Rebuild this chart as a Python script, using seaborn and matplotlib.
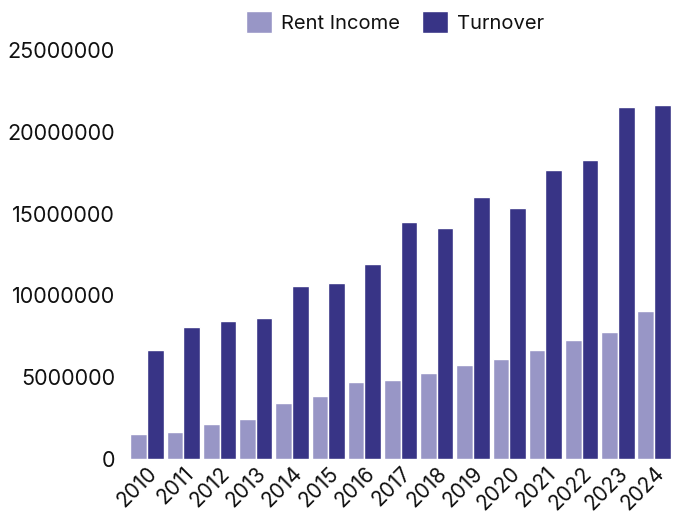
import numpy as np
import pandas as pd
import matplotlib
matplotlib.use("Agg")
import matplotlib.pyplot as plt
import seaborn as sns

# values
years = [str(y) for y in range(2010, 2025)]
rent_income = [1530000, 1650000, 2140000, 2450000, 3420000, 3830000, 4720000, 4820000,
               5230000, 5770000, 6090000, 6650000, 7270000, 7780000, 9030000]
turnover = [6650000, 8070000, 8430000, 8610000, 10570000, 10760000, 11930000, 14490000,
            14120000, 16000000, 15340000, 17660000, 18280000, 21520000, 21630000]

df = pd.DataFrame({
    "year": years * 2,
    "value": rent_income + turnover,
    "series": ["Rent Income"] * len(years) + ["Turnover"] * len(years),
})

sns.set_theme(style="white")
plt.rcParams["font.family"] = ["Inter", "DejaVu Sans"]
plt.rcParams["text.color"] = "#111111"
plt.rcParams["xtick.color"] = "#111111"
plt.rcParams["ytick.color"] = "#111111"

fig = plt.figure(figsize=(6.79, 5.19), dpi=100)
ax = fig.add_axes([0.19, 0.1156, 0.80, 0.7881])

sns.barplot(data=df, x="year", y="value", hue="series",
            palette=["#9896c6", "#383486"], width=0.92,
            edgecolor="white", linewidth=1, saturation=1, ax=ax)

ax.set_ylim(0, 25000000)
ax.set_xlim(-0.5, len(years) - 0.5)
yt = np.arange(0, 25000001, 5000000)
ax.set_yticks(yt)
ax.set_yticklabels([f"{int(v)}" for v in yt], fontsize=15.5)
ax.tick_params(axis="x", labelsize=15, length=0, pad=3)
ax.tick_params(axis="y", length=0, pad=10)
for lab in ax.get_xticklabels():
    lab.set_rotation(45)
    lab.set_ha("right")
    lab.set_rotation_mode("anchor")

for s in ax.spines.values():
    s.set_visible(False)
ax.grid(False)
ax.set_xlabel("")
ax.set_ylabel("")

ax.legend(title=None, loc="upper center", bbox_to_anchor=(0.49, 1.14), ncol=2,
          frameon=False, fontsize=14.5, handlelength=1.3, handleheight=1.3,
          columnspacing=1.1, handletextpad=0.45)

fig.savefig("out.png", dpi=100)
